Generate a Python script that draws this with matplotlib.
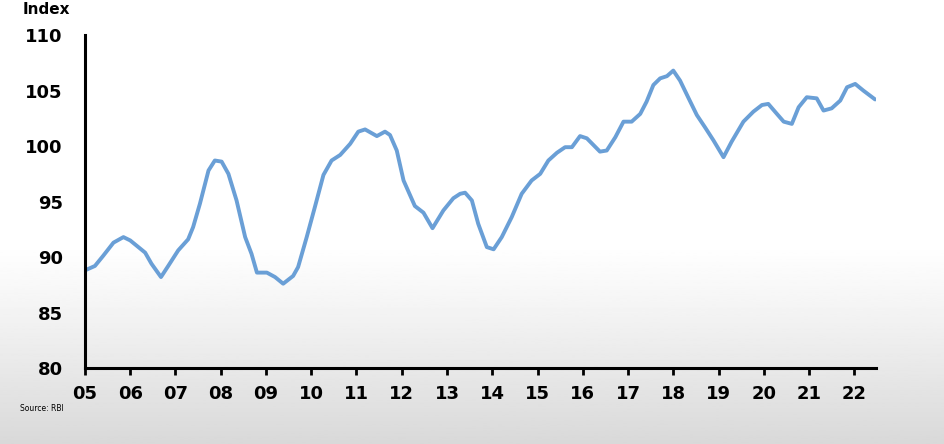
import numpy as np
import matplotlib
matplotlib.use("Agg")
import matplotlib.pyplot as plt

# Index values (decimal year, index)
years = [2005.00, 2005.22, 2005.40, 2005.63, 2005.85, 2006.00, 2006.18, 2006.33,
         2006.47, 2006.68, 2006.84, 2007.06, 2007.28, 2007.39, 2007.54, 2007.73,
         2007.87, 2008.02, 2008.17, 2008.35, 2008.54, 2008.68, 2008.80, 2009.02,
         2009.20, 2009.38, 2009.60, 2009.71, 2009.90, 2010.08, 2010.27, 2010.45,
         2010.64, 2010.86, 2011.04, 2011.19, 2011.45, 2011.63, 2011.74, 2011.89,
         2012.04, 2012.29, 2012.48, 2012.68, 2012.92, 2013.14, 2013.29, 2013.40,
         2013.55, 2013.69, 2013.88, 2014.03, 2014.21, 2014.43, 2014.65, 2014.87,
         2015.06, 2015.24, 2015.43, 2015.61, 2015.76, 2015.94, 2016.09, 2016.38,
         2016.53, 2016.72, 2016.90, 2017.08, 2017.27, 2017.41, 2017.56, 2017.71,
         2017.86, 2018.00, 2018.15, 2018.34, 2018.52, 2018.70, 2018.89, 2019.11,
         2019.29, 2019.55, 2019.77, 2019.96, 2020.10, 2020.29, 2020.44, 2020.62,
         2020.77, 2020.95, 2021.17, 2021.32, 2021.50, 2021.69, 2021.84, 2022.02,
         2022.20, 2022.46]
index = [88.8, 89.2, 90.1, 91.3, 91.8, 91.5, 90.9, 90.4,
         89.4, 88.2, 89.2, 90.6, 91.6, 92.7, 94.8, 97.8,
         98.7, 98.6, 97.5, 95.1, 91.8, 90.3, 88.6, 88.6,
         88.2, 87.6, 88.3, 89.1, 91.8, 94.5, 97.4, 98.7,
         99.2, 100.2, 101.3, 101.5, 100.9, 101.3, 101.0, 99.6,
         96.9, 94.6, 94.0, 92.6, 94.2, 95.3, 95.7, 95.8,
         95.1, 93.0, 90.9, 90.7, 91.8, 93.6, 95.7, 96.9,
         97.5, 98.7, 99.4, 99.9, 99.9, 100.9, 100.7, 99.5,
         99.6, 100.8, 102.2, 102.2, 102.9, 104.0, 105.5, 106.1,
         106.3, 106.8, 105.9, 104.3, 102.8, 101.7, 100.5, 99.0,
         100.4, 102.2, 103.1, 103.7, 103.8, 102.9, 102.2, 102.0,
         103.5, 104.4, 104.3, 103.2, 103.4, 104.1, 105.3, 105.6,
         105.0, 104.2]

tick_years = list(range(2005, 2023))
tick_labels = [f"{y % 100:02d}" for y in tick_years]
y_ticks = [80, 85, 90, 95, 100, 105, 110]

fig = plt.figure(figsize=(9.45, 4.44), dpi=100)

# Background: white fading to light grey towards the bottom
bg = fig.add_axes([0, 0, 1, 1], zorder=0)
t = np.linspace(0, 1, 300)
shade = np.clip((t - 0.55) / 0.45, 0, 1) ** 1.1
grad = 1.0 - 0.15 * shade
bg.imshow(grad[:, None], aspect="auto", cmap="gray", vmin=0, vmax=1,
          extent=[0, 1, 1, 0])
bg.set_axis_off()

ax = fig.add_axes([0.0899, 0.171, 0.8371, 0.750], zorder=1)
ax.patch.set_alpha(0)

ax.plot(years, index, color="#6a9fd6", linewidth=2.8, solid_joinstyle="round",
        solid_capstyle="round")

ax.set_xlim(2005, 2022.48)
ax.set_ylim(80, 110)
ax.set_xticks(tick_years)
ax.set_xticklabels(tick_labels)
ax.set_yticks(y_ticks)

for s in ["top", "right"]:
    ax.spines[s].set_visible(False)
for s in ["left", "bottom"]:
    ax.spines[s].set_linewidth(2.2)
    ax.spines[s].set_color("black")

ax.tick_params(axis="x", direction="out", length=5, width=2, pad=7,
               labelsize=13)
ax.tick_params(axis="y", length=0, pad=16, labelsize=13)
for lab in ax.get_xticklabels() + ax.get_yticklabels():
    lab.set_fontweight("bold")

fig.text(0.024, 0.996, "Index", fontsize=11, fontweight="bold",
         ha="left", va="top")
fig.text(0.021, 0.081, "Source: RBI", fontsize=5.5, ha="left", va="center")

fig.savefig("out.png", dpi=100)
